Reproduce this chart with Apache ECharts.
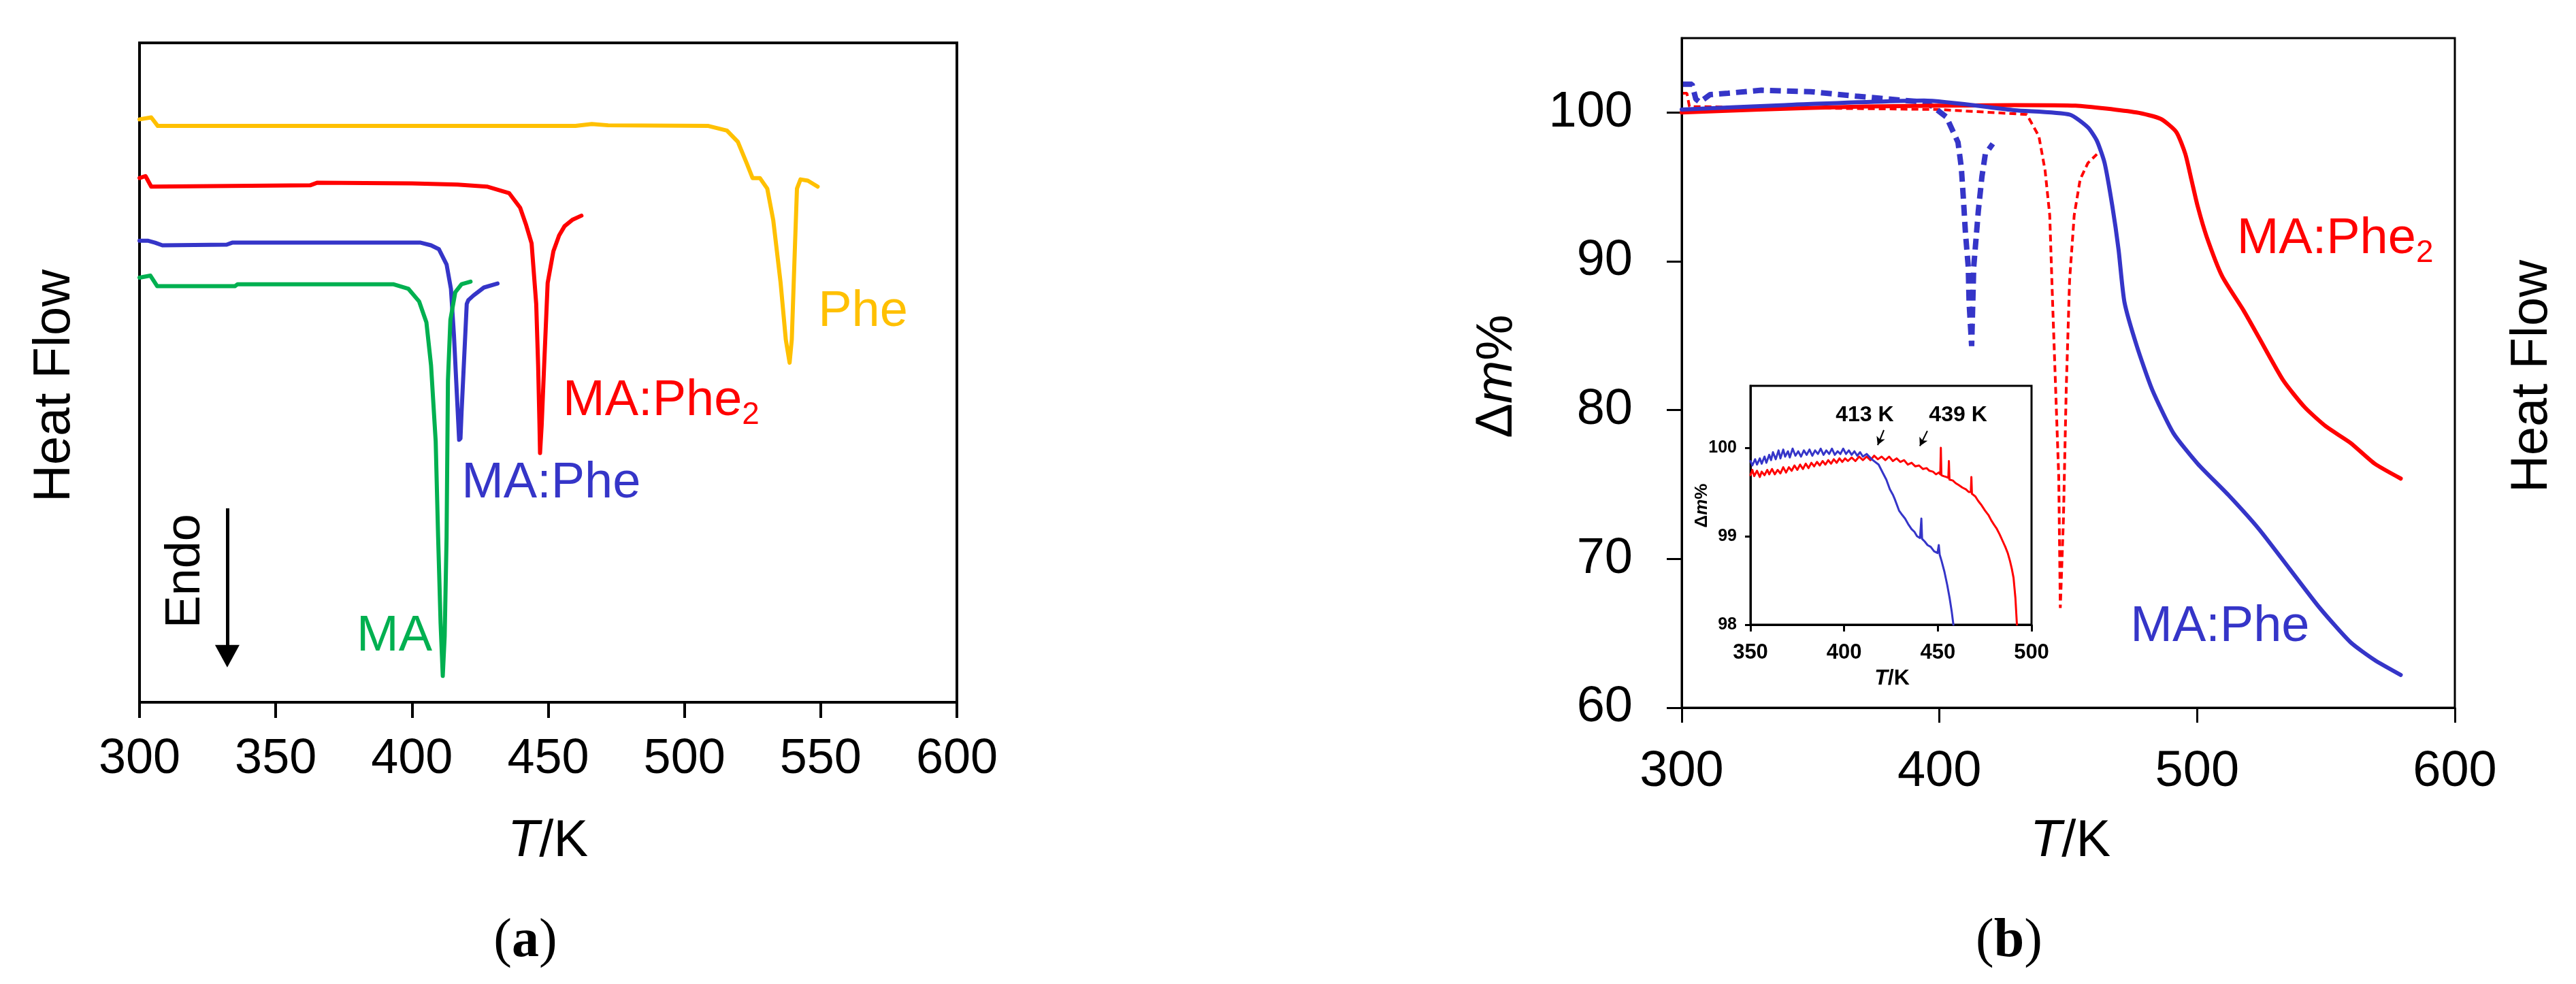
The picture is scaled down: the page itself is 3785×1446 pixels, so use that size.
<!DOCTYPE html>
<html>
<head>
<meta charset="utf-8">
<script src="https://cdn.jsdelivr.net/npm/echarts@6/dist/echarts.min.js"></script>
<style>
  html, body { margin: 0; padding: 0; background: #fff; }
  #main { width: 3785px; height: 1446px; }
</style>
</head>
<body>
<div id="main"></div>
<script>
// ---- panel (a): DSC curves, [T/K, heat flow (arb.)] ----
const dscPhe = [[300,88.4],[304.3,88.7],[306.7,87.4],[350,87.4],[400,87.4],[460,87.4],[466,87.7],[472,87.5],[508.8,87.4],[515.6,86.7],[519.6,85],[522.9,81.7],[525,79.5],[527.7,79.5],[530.4,77.9],[532.6,73.1],[535.3,63.6],[537.2,55],[538.6,51.5],[539.4,55],[540.5,68.4],[541.3,77.9],[542.6,79.3],[545.3,79.1],[548.9,78.2]];
const dscMAPhe2 = [[300,79.5],[302.2,79.8],[304.3,78.2],[362.6,78.4],[365.3,78.8],[400,78.7],[416.7,78.5],[427.5,78.2],[435.7,77.2],[439.7,75.0],[441.8,72.5],[443.9,69.6],[445.6,60.4],[446.3,51.1],[446.8,42],[447,37.8],[447.6,42],[448.4,50],[449.8,63.6],[451.9,68.4],[454,70.8],[456,72.2],[459,73.2],[462.2,73.8]];
const dscMAPhe = [[300,70.0],[303,70.0],[305.7,69.7],[308.4,69.3],[332,69.4],[334,69.7],[403.2,69.7],[407,69.3],[409.9,68.7],[412.7,66.4],[414.3,62.7],[415.4,55.7],[416.5,46.5],[417.3,39.8],[417.8,40],[418.2,44],[419.3,53.5],[420.1,60.4],[420.7,61.0],[422.6,61.7],[426.4,62.9],[431.4,63.5]];
const dscMA = [[300,64.4],[304,64.7],[306.5,63.1],[335,63.1],[336,63.4],[393.1,63.4],[398.7,62.7],[402.6,60.8],[405.3,57.6],[407,51.1],[408.7,39.6],[409.6,25],[410.5,12],[411.3,4],[412,10],[412.7,25],[413.2,48.8],[414.1,58],[415.9,62.2],[418.2,63.4],[421.5,63.8]];

// ---- panel (b): TGA (solid) and DSC (dashed), [T/K, Δm%] ----
const tgaMAPhe2 = [[300,100],[330,100.2],[371,100.4],[429.1,100.5],[452.8,100.46],[476.5,100.0],[485.9,99.57],[491.9,98.69],[495.4,97.22],[497.8,95.47],[500.2,93.7],[503.7,91.65],[509.7,89.0],[518,86.7],[523.9,84.9],[533.4,82.0],[541.7,80.2],[550,78.9],[559.5,77.8],[568.9,76.4],[579,75.4]];
const tgaMAPhe = [[300,100.2],[340,100.5],[394,100.8],[429.1,100.15],[450.5,99.86],[457.6,99.0],[461.1,98.1],[464.1,96.6],[467.1,93.7],[469.5,90.8],[471.8,87.25],[476.6,84.3],[482.5,81.4],[490.8,78.45],[500.2,76.4],[512.1,74.3],[524,72.0],[535.8,69.35],[547.6,66.7],[559.5,64.4],[568.9,63.2],[579,62.2]];
const dscbMAPhe = [[300.5,101.9],[304,101.9],[305.5,100.9],[307,100.7],[311,101.2],[318,101.3],[331,101.5],[350,101.4],[367.6,101.1],[394,100.7],[397.4,100.4],[402.7,99.7],[407.2,98],[408.5,96.3],[409.3,94.2],[410.1,91.9],[411.2,89.6],[411.5,87.3],[412.5,84.3],[413.3,89.6],[415.1,93.4],[416.5,95.7],[417.8,97.2],[420.7,97.9]];
const dscbMAPhe2 = [[300.5,101.3],[302,101.3],[303,100.4],[350,100.3],[400,100.2],[433.9,99.87],[438.6,98.4],[441,96.1],[442.8,93.1],[443.9,87.3],[445.1,81.4],[446.3,75.5],[446.9,66.7],[448.1,72.6],[449.2,81.4],[450.5,88.7],[452.3,93.1],[454.6,95.5],[457.6,96.6],[461.1,97.2]];

// ---- inset: TGA zoom, [T/K, Δm%] ----
const insetMAPhe = [[350,99.85],[351,99.8],[352.5,99.87],[353.5,99.81],[355,99.88],[356,99.82],[357.5,99.9],[358.5,99.83],[360,99.92],[361,99.86],[362,99.95],[363.5,99.87],[365,99.97],[366,99.88],[367.5,99.98],[368.5,99.9],[370,99.96],[371,99.89],[372.5,99.99],[374,99.91],[375.5,99.96],[377,99.9],[378.5,99.97],[380,99.92],[381.5,99.98],[383,99.91],[384.5,99.97],[386,99.93],[387.5,99.99],[389,99.92],[390.5,99.97],[392,99.93],[393.5,99.99],[395,99.92],[396.5,99.96],[398,99.93],[399.5,99.99],[401,99.93],[402.5,99.97],[404,99.92],[405.5,99.96],[407,99.91],[408.5,99.95],[410,99.9],[412,99.93],[414.7,99.87],[418.4,99.81],[420.8,99.71],[422.5,99.64],[424.4,99.53],[426,99.47],[427,99.42],[429.3,99.29],[431,99.24],[432.5,99.2],[434.1,99.14],[436,99.08],[437.5,99.05],[438.9,99.0],[440.5,98.98],[441.2,99.2],[441.6,98.97],[443,98.94],[444.5,98.9],[446.2,98.88],[448,98.83],[449.8,98.81],[450.5,98.9],[451,98.79],[452,98.72],[453.5,98.6],[455,98.45],[456.3,98.3],[457.4,98.15],[458.3,98.0]];
const insetMAPhe2 = [[350,99.69],[351,99.75],[352,99.68],[353.5,99.74],[355,99.67],[356,99.73],[357.5,99.69],[359,99.75],[360,99.7],[361.5,99.76],[363,99.7],[364.5,99.75],[366,99.71],[367.5,99.78],[369,99.72],[370.5,99.78],[372,99.74],[373.5,99.8],[375,99.75],[376.5,99.81],[378,99.76],[379.5,99.82],[381,99.77],[382.5,99.83],[384,99.79],[385.5,99.84],[387,99.8],[388.5,99.85],[390,99.81],[391.5,99.86],[393,99.82],[394.5,99.87],[396,99.83],[397.5,99.88],[399,99.84],[400.5,99.88],[402,99.85],[404,99.89],[406,99.85],[408,99.9],[410,99.86],[412,99.9],[414,99.86],[416,99.91],[418,99.87],[420,99.9],[422,99.86],[424,99.9],[426,99.85],[428,99.88],[430,99.84],[432,99.86],[434,99.81],[436,99.83],[438,99.79],[440,99.8],[442,99.76],[444,99.77],[445.5,99.74],[447.4,99.73],[449,99.7],[450.5,99.72],[451.3,99.7],[451.6,100.0],[451.9,99.69],[453,99.68],[454.5,99.67],[455.6,99.66],[455.9,99.85],[456.2,99.64],[458,99.63],[459.5,99.6],[461,99.58],[463.1,99.55],[465,99.53],[466.5,99.5],[467.6,99.5],[467.9,99.67],[468.2,99.48],[470,99.45],[471.5,99.4],[473,99.36],[475.2,99.29],[477,99.24],[478.5,99.18],[480,99.13],[481.3,99.09],[483,99.02],[484.5,98.95],[486,98.88],[487.3,98.81],[488.5,98.72],[489.5,98.63],[490.4,98.53],[491.4,98.3],[492.2,98.0]];

// tick values
const ticksA = [300, 350, 400, 450, 500, 550, 600];
const ticksBy = [60, 70, 80, 90, 100];
const ticksInsetY = [98, 99, 100];

// annotation anchors [T, y]
const endoArrow = [[332.2, 29.4], [332.2, 7.0]];
const arrow413 = [[421.2, 100.2], [417.9, 100.03]];
const arrow439 = [[444.4, 100.19], [440.4, 100.02]];

const YELLOW = '#ffc000', RED = '#ff0000', BLUE = '#3535c8', GREEN = '#00b050';
const SANS = '"Liberation Sans", Arial, sans-serif';

const chart = echarts.init(document.getElementById('main'));

function line(name, data, color, width, xi, extra) {
  return Object.assign({
    name: name, type: 'line', data: data, xAxisIndex: xi, yAxisIndex: xi,
    symbol: 'none', silent: true, animation: false, clip: true,
    lineStyle: {color: color, width: width, cap: 'round', join: 'round'}
  }, extra || {});
}

const option = {
  backgroundColor: '#fff',
  animation: false,
  grid: [
    {left: 205, top: 63, width: 1201, height: 969, show: true, borderColor: '#000', borderWidth: 4, backgroundColor: 'transparent'},
    {left: 2471, top: 56, width: 1136, height: 984, show: true, borderColor: '#000', borderWidth: 3, backgroundColor: 'transparent'},
    {left: 2572, top: 567, width: 413, height: 351, show: true, borderColor: '#000', borderWidth: 3, backgroundColor: '#fff', z: 5}
  ],
  xAxis: [
    {
      gridIndex: 0, type: 'value', min: 300, max: 600, interval: 50,
      axisLine: {lineStyle: {color: '#000', width: 4}},
      axisTick: {inside: false, length: 23, lineStyle: {width: 4}},
      axisLabel: {fontSize: 72, color: '#000', fontFamily: SANS, margin: 48, customValues: ticksA},
      splitLine: {show: false}
    },
    {
      gridIndex: 1, type: 'value', min: 300, max: 600, interval: 100,
      axisLine: {lineStyle: {color: '#000', width: 3}},
      axisTick: {inside: false, length: 22, lineStyle: {width: 3}},
      axisLabel: {fontSize: 74, color: '#000', fontFamily: SANS, margin: 58},
      splitLine: {show: false}
    },
    {
      gridIndex: 2, type: 'value', min: 350, max: 500, interval: 50, z: 6,
      axisLine: {lineStyle: {color: '#000', width: 3}},
      axisTick: {inside: false, length: 10, lineStyle: {width: 3}},
      axisLabel: {fontSize: 31, fontWeight: 'bold', color: '#000', fontFamily: SANS, margin: 26},
      splitLine: {show: false}
    }
  ],
  yAxis: [
    {
      gridIndex: 0, type: 'value', min: 0, max: 100,
      axisLine: {show: true, lineStyle: {color: '#000', width: 4}},
      axisTick: {show: false}, axisLabel: {show: false}, splitLine: {show: false}
    },
    {
      gridIndex: 1, type: 'value', min: 60, max: 105, interval: 10,
      axisLine: {show: true, lineStyle: {color: '#000', width: 3}},
      axisTick: {inside: false, length: 22, lineStyle: {width: 3}, customValues: ticksBy},
      axisLabel: {fontSize: 74, color: '#000', fontFamily: SANS, margin: 72, customValues: ticksBy},
      splitLine: {show: false}
    },
    {
      gridIndex: 2, type: 'value', min: 98, max: 100.7, z: 6,
      axisLine: {show: true, lineStyle: {color: '#000', width: 3}},
      axisTick: {inside: false, length: 8, lineStyle: {width: 3}, customValues: ticksInsetY},
      axisLabel: {fontSize: 25, fontWeight: 'bold', color: '#000', fontFamily: SANS, margin: 20, customValues: ticksInsetY},
      splitLine: {show: false}
    }
  ],
  series: [
    line('Phe', dscPhe, YELLOW, 6, 0),
    line('MA:Phe2', dscMAPhe2, RED, 6, 0),
    line('MA:Phe', dscMAPhe, BLUE, 6, 0),
    line('MA', dscMA, GREEN, 6, 0, {
      markLine: {
        silent: true, animation: false,
        symbol: ['none', 'triangle'], symbolSize: [36, 33],
        lineStyle: {color: '#000', width: 5, type: 'solid'},
        label: {show: false},
        data: [[{coord: endoArrow[0]}, {coord: endoArrow[1]}]]
      }
    }),
    line('DSC MA:Phe2', dscbMAPhe2, RED, 4, 1, {lineStyle: {color: RED, width: 4, type: [10, 6]}}),
    line('DSC MA:Phe', dscbMAPhe, BLUE, 8, 1, {lineStyle: {color: BLUE, width: 8, type: [16, 9]}}),
    line('TGA MA:Phe2', tgaMAPhe2, RED, 6, 1, {smooth: 0.2}),
    line('TGA MA:Phe', tgaMAPhe, BLUE, 6, 1, {smooth: 0.2}),
    line('inset MA:Phe2', insetMAPhe2, RED, 3, 2, {z: 7}),
    line('inset MA:Phe', insetMAPhe, BLUE, 3, 2, {
      z: 8,
      markLine: {
        silent: true, animation: false,
        symbol: ['none', 'arrow'], symbolSize: [10, 12],
        lineStyle: {color: '#000', width: 2, type: 'solid'},
        label: {show: false},
        data: [
          [{coord: arrow413[0]}, {coord: arrow413[1]}],
          [{coord: arrow439[0]}, {coord: arrow439[1]}]
        ]
      }
    })
  ]
};
chart.setOption(option);

// text annotations, placed through the axes
function px(gi, pt) {
  return chart.convertToPixel({gridIndex: gi}, pt);
}
function txt(pos, text, style, extra) {
  return Object.assign({
    type: 'text', x: pos[0], y: pos[1], silent: true, z: 100,
    style: Object.assign({text: text, fontFamily: SANS, fill: '#000', align: 'left', verticalAlign: 'middle'}, style)
  }, extra || {});
}
const sub = (color, size) => ({
  m: {fontSize: size, fill: color, fontFamily: SANS, lineHeight: size * 1.2, verticalAlign: 'middle'},
  s: {fontSize: size * 0.62, fill: color, fontFamily: SANS, lineHeight: size * 0.6, verticalAlign: 'bottom'}
});
const tk = (size, bold) => ({
  i: {fontSize: size, fontStyle: 'italic', fontWeight: bold ? 'bold' : 'normal', fontFamily: SANS},
  n: {fontSize: size, fontWeight: bold ? 'bold' : 'normal', fontFamily: SANS}
});
const serif = '"Liberation Serif", serif';
const cap = (letter) => '{p|(}{b|' + letter + '}{p|)}';
const capRich = {p: {fontSize: 80, fontFamily: serif}, b: {fontSize: 80, fontWeight: 'bold', fontFamily: serif}};

const graphics = [
  // panel (a)
  txt([81, 567], 'Heat Flow', {fontSize: 76, align: 'center'}, {rotation: Math.PI / 2}),
  txt([805, 1237], '{i|T}{n|/K}', {align: 'center', rich: tk(76)}),
  txt([772, 1384], cap('a'), {align: 'center', rich: capRich}),
  txt(px(0, [549.1, 59.2]), 'Phe', {fontSize: 74, fill: YELLOW}),
  txt(px(0, [455.4, 45.7]), '{m|MA:Phe}{s|2}', {rich: sub(RED, 74)}),
  txt(px(0, [418.2, 33.2]), 'MA:Phe', {fontSize: 74, fill: BLUE}),
  txt(px(0, [379.7, 9.9]), 'MA', {fontSize: 74, fill: GREEN}),
  txt(px(0, [317, 19.9]), 'Endo', {fontSize: 72, align: 'center'}, {rotation: Math.PI / 2}),
  // panel (b)
  txt([2200, 553], '{n|Δ}{i|m}{n|%}', {align: 'center', rich: tk(76)}, {rotation: Math.PI / 2}),
  txt([3721, 553], 'Heat Flow', {fontSize: 76, align: 'center'}, {rotation: Math.PI / 2}),
  txt([3042, 1237], '{i|T}{n|/K}', {align: 'center', rich: tk(76)}),
  txt([2952, 1384], cap('b'), {align: 'center', rich: capRich}),
  txt(px(1, [515.4, 91.5]), '{m|MA:Phe}{s|2}', {rich: sub(RED, 74)}),
  txt(px(1, [474.1, 65.4]), 'MA:Phe', {fontSize: 74, fill: BLUE}),
  // inset
  txt([2501, 743], '{n|Δ}{i|m}{n|%}', {align: 'center', rich: tk(26, true)}, {rotation: Math.PI / 2}),
  txt([2780, 997], '{i|T}{n|/K}', {align: 'center', rich: tk(32, true)}),
  txt(px(2, [411, 100.37]), '413 K', {fontSize: 32, fontWeight: 'bold', align: 'center'}),
  txt(px(2, [460.8, 100.37]), '439 K', {fontSize: 32, fontWeight: 'bold', align: 'center'})
];
chart.setOption({graphic: graphics});
</script>
</body>
</html>
